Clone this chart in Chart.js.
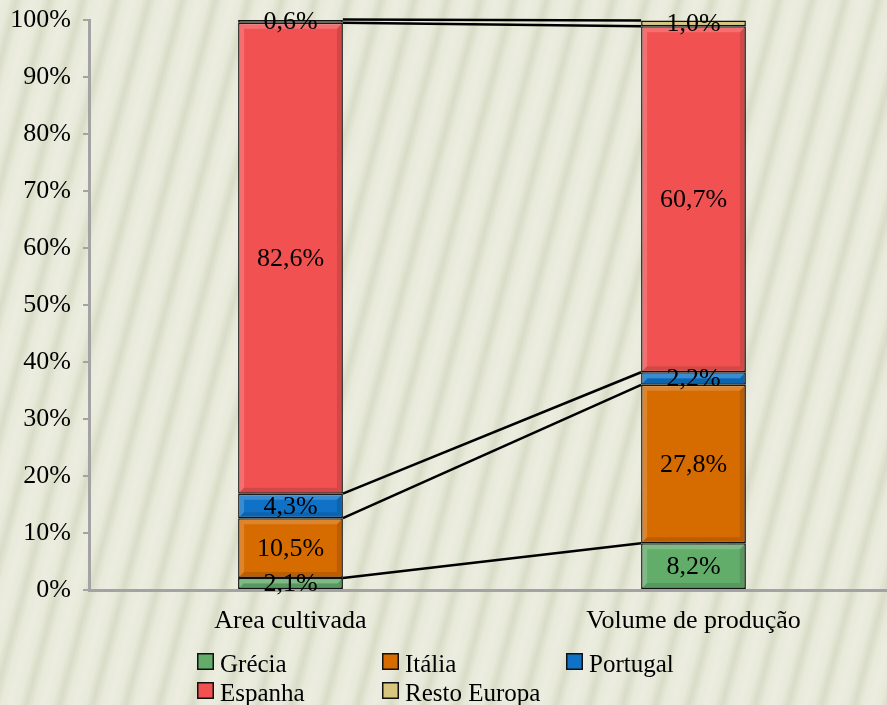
<!DOCTYPE html>
<html>
<head>
<meta charset="utf-8">
<script src="https://cdn.jsdelivr.net/npm/chart.js@4"></script>
<style>
  html, body { margin: 0; padding: 0; }
  body {
    width: 887px; height: 705px; overflow: hidden;
    background-color: #e8e9da;
    background-image: repeating-linear-gradient(105deg,
      #ecede0 0px, #e7e9d9 9px, #d9dcc7 16px, #e7e9d9 23px, #ecede0 32px);
  }
  #wrap { width: 895px; height: 705px; }
</style>
</head>
<body>
<div id="wrap"><canvas id="myChart"></canvas></div>
<script>
// Categorias e valores (%)
const categorias = ['Area cultivada', 'Volume de produção'];
const paises = ['Grécia', 'Itália', 'Portugal', 'Espanha', 'Resto Europa'];
const grecia = [2.1, 8.2];
const italia = [10.5, 27.8];
const portugal = [4.3, 2.2];
const espanha = [82.6, 60.7];
const restoEuropa = [0.6, 1.0];
const ticksY = [0, 10, 20, 30, 40, 50, 60, 70, 80, 90, 100];

const cores = ['#62ad6a', '#d66b00', '#0f72c6', '#f25151', '#d8c67e'];
const series = [grecia, italia, portugal, espanha, restoEuropa];

const fonte = '"Liberation Serif", "Times New Roman", serif';

// Linhas entre as barras (topo de cada segmento)
const linhasSerie = {
    id: 'linhasSerie',
    afterDatasetsDraw(chart) {
        const ctx = chart.ctx;
        ctx.save();
        ctx.strokeStyle = '#000';
        ctx.lineWidth = 2.5;
        chart.data.datasets.forEach((ds, i) => {
            const meta = chart.getDatasetMeta(i);
            const a = meta.data[0], b = meta.data[1];
            ctx.beginPath();
            ctx.moveTo(a.x + a.width / 2, a.y);
            ctx.lineTo(b.x - b.width / 2, b.y);
            ctx.stroke();
        });
        ctx.restore();
    }
};

// Efeito de relevo + rótulos de valores
const rotulos = {
    id: 'rotulos',
    afterDatasetsDraw(chart) {
        const ctx = chart.ctx;
        ctx.save();
        chart.data.datasets.forEach((ds, i) => {
            const meta = chart.getDatasetMeta(i);
            meta.data.forEach((bar, j) => {
                const x0 = bar.x - bar.width / 2, x1 = bar.x + bar.width / 2;
                const y0 = Math.min(bar.y, bar.base), y1 = Math.max(bar.y, bar.base);
                const h = y1 - y0;
                if (h > 10) {
                    const b = 6;
                    ctx.fillStyle = 'rgba(255,255,255,0.18)';
                    ctx.beginPath();
                    ctx.moveTo(x0 + 1, y0 + 1); ctx.lineTo(x1 - 1, y0 + 1);
                    ctx.lineTo(x1 - b, y0 + b); ctx.lineTo(x0 + b, y0 + b);
                    ctx.lineTo(x0 + b, y1 - b); ctx.lineTo(x0 + 1, y1 - 1);
                    ctx.closePath(); ctx.fill();
                    ctx.fillStyle = 'rgba(0,0,0,0.12)';
                    ctx.beginPath();
                    ctx.moveTo(x1 - 1, y0 + 1); ctx.lineTo(x1 - 1, y1 - 1);
                    ctx.lineTo(x0 + 1, y1 - 1); ctx.lineTo(x0 + b, y1 - b);
                    ctx.lineTo(x1 - b, y1 - b); ctx.lineTo(x1 - b, y0 + b);
                    ctx.closePath(); ctx.fill();
                }
            });
        });
        ctx.fillStyle = '#000';
        ctx.font = '26px ' + fonte;
        ctx.textAlign = 'center';
        ctx.textBaseline = 'middle';
        chart.data.datasets.forEach((ds, i) => {
            const meta = chart.getDatasetMeta(i);
            meta.data.forEach((bar, j) => {
                const v = ds.data[j];
                const txt = v.toFixed(1).replace('.', ',') + '%';
                ctx.fillText(txt, bar.x, (bar.y + bar.base) / 2 + 1);
            });
        });
        ctx.restore();
    }
};

// Legenda em grelha (3 colunas)
const legenda = {
    id: 'legenda',
    afterDraw(chart) {
        const ctx = chart.ctx;
        ctx.save();
        ctx.font = '25px ' + fonte;
        ctx.textBaseline = 'alphabetic';
        const colX = [197, 382, 566];
        const rowY = [653, 682];
        chart.data.datasets.forEach((ds, i) => {
            const x = colX[i % 3], y = rowY[Math.floor(i / 3)];
            ctx.fillStyle = ds.backgroundColor;
            ctx.fillRect(x, y, 17, 17);
            ctx.strokeStyle = '#111';
            ctx.lineWidth = 1.5;
            ctx.strokeRect(x + 0.75, y + 0.75, 15.5, 15.5);
            ctx.fillStyle = '#000';
            ctx.fillText(ds.label, x + 23, y + 19);
        });
        ctx.restore();
    }
};

const ctx = document.getElementById('myChart').getContext('2d');
const myChart = new Chart(ctx, {
    type: 'bar',
    data: {
        labels: categorias,
        datasets: series.map((d, i) => ({
            label: paises[i],
            data: d,
            backgroundColor: cores[i],
            borderColor: '#111',
            borderWidth: 1.5,
            borderSkipped: false,
            categoryPercentage: 1,
            barPercentage: 0.26
        }))
    },
    options: {
        responsive: true,
        maintainAspectRatio: false,
        animation: false,
        layout: { padding: { left: 0, top: 20, right: 0, bottom: 0 } },
        plugins: {
            legend: { display: false },
            tooltip: { enabled: false }
        },
        scales: {
            x: {
                stacked: true,
                grid: { display: false, drawTicks: false },
                border: { display: true, color: '#a3a3a3', width: 3 },
                ticks: { color: '#000', padding: 16, font: { family: fonte, size: 26 } },
                afterFit: (scale) => { scale.height = 115; scale.paddingLeft = 0; scale.paddingRight = 0; }
            },
            y: {
                stacked: true,
                min: 0,
                max: 100,
                afterBuildTicks: (axis) => { axis.ticks = ticksY.map(v => ({ value: v })); },
                grid: { drawOnChartArea: false, drawTicks: true, tickLength: 6, color: '#a3a3a3', lineWidth: 2 },
                border: { display: true, color: '#a3a3a3', width: 3 },
                ticks: {
                    color: '#000', padding: 12,
                    font: { family: fonte, size: 26 },
                    callback: (v) => v + '%'
                },
                afterFit: (scale) => { scale.width = 89; scale.paddingTop = 0; scale.paddingBottom = 0; }
            }
        }
    },
    plugins: [linhasSerie, rotulos, legenda]
});
</script>
</body>
</html>
